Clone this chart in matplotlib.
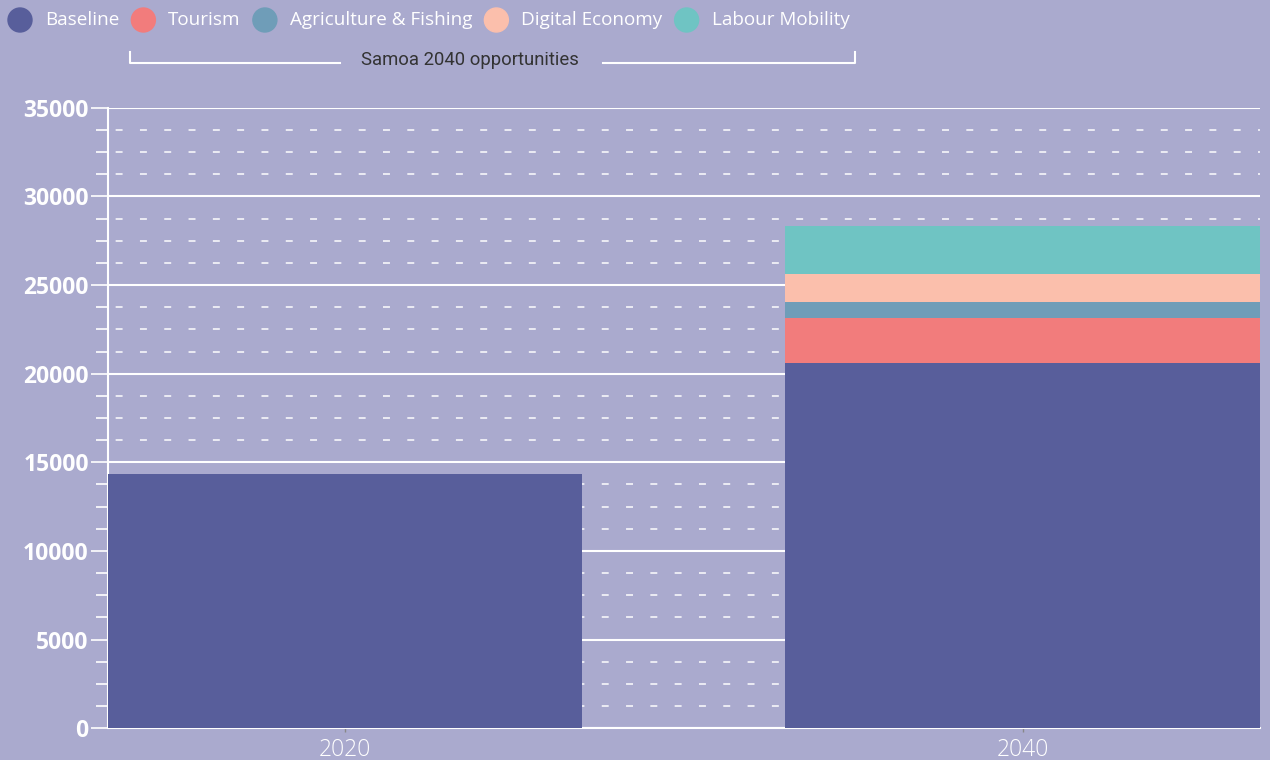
import numpy as np
import matplotlib.pyplot as plt
from matplotlib.patches import Circle

plt.rcParams['lines.scale_dashes'] = False

# data
years = ['2020', '2040']
series = ['Baseline', 'Tourism', 'Agriculture & Fishing', 'Digital Economy', 'Labour Mobility']
baseline = [14340, 20600]
tourism = [0, 2540]
agriculture = [0, 900]
digital = [0, 1580]
labour = [0, 2710]
colors = ['#585E9B', '#F27C7C', '#6F9DB8', '#FBBFAC', '#6FC4C3']

bg = '#AAAACE'
W, H = 1270, 760

fig = plt.figure(figsize=(W / 100, H / 100), dpi=100, facecolor=bg)
ax = fig.add_axes([107.5 / W, (H - 728.3) / H, (1260 - 107.5) / W, (728.3 - 107.7) / H])
ax.set_facecolor(bg)

x = np.arange(len(years))
bottom = np.zeros(len(years))
for vals, c in zip([baseline, tourism, agriculture, digital, labour], colors):
    ax.bar(x, vals, width=0.7, bottom=bottom, color=c, zorder=3)
    bottom += np.array(vals)

ax.set_xlim(-0.35, 1.35)
ax.set_ylim(0, 35000)
ax.set_yticks(np.arange(0, 35001, 5000))
ax.set_yticks(np.arange(0, 35001, 1250), minor=True)
ax.set_xticks(x)
ax.set_xticklabels(years)

ax.set_axisbelow(True)
ax.grid(axis='y', which='major', color='white', lw=1.5)
ax.grid(axis='y', which='minor', color='white', lw=1.2, linestyle=(12, (5, 12.5)), alpha=0.9)

for s in ['top', 'right']:
    ax.spines[s].set_visible(False)
for s in ['left', 'bottom']:
    ax.spines[s].set_color('white')
    ax.spines[s].set_linewidth(1.5)

ax.tick_params(axis='y', which='major', length=12, width=1.2, color='white', pad=1.5,
               labelcolor='white', labelsize=16.5)
ax.tick_params(axis='y', which='minor', length=9, width=1.2, color='white')
ax.tick_params(axis='x', length=3, width=1, color='#888888', pad=4,
               labelcolor='white', labelsize=16.5)
for lab in ax.get_yticklabels():
    lab.set_fontfamily('Open Sans')
    lab.set_fontweight('bold')
for lab in ax.get_xticklabels():
    lab.set_fontfamily('Open Sans')
    lab.set_fontweight('light')

# legend and bracket on an overlay in pixel units
ov = fig.add_axes([0, 0, 1, 1], facecolor='none')
ov.set_xlim(0, W)
ov.set_ylim(H, 0)
ov.axis('off')

renderer = fig.canvas.get_renderer()
cx = 20
for name, c in zip(series, colors):
    ov.add_patch(Circle((cx, 20), 12, color=c))
    t = ov.text(cx + 25, 20, name, color='white', fontsize=13.6, family='Open Sans',
                va='center', ha='left')
    w = t.get_window_extent(renderer).width
    cx = cx + 25 + w + 24

ov.plot([130, 130, 340], [52, 63, 63], color='white', lw=1.5)
ov.plot([603, 855, 855], [63, 63, 52], color='white', lw=1.5)
ov.text(470, 60, 'Samoa 2040 opportunities', color='#333333', fontsize=13.3,
        family='Roboto', ha='center', va='center')

fig.savefig('out.png', dpi=100, facecolor=bg)
